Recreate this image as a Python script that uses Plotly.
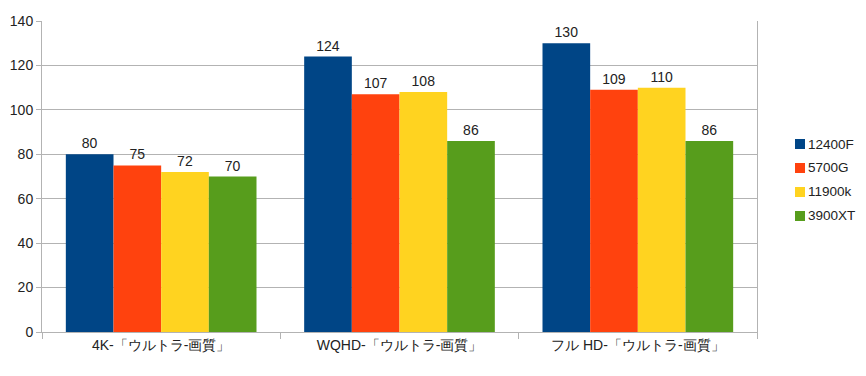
import plotly.graph_objects as go

categories = ["4K-「ウルトラ-画質」", "WQHD-「ウルトラ-画質」", "フル HD-「ウルトラ-画質」"]
series_names = ["12400F", "5700G", "11900k", "3900XT"]
v_12400F = [80, 124, 130]
v_5700G = [75, 107, 109]
v_11900k = [72, 108, 110]
v_3900XT = [70, 86, 86]
series_values = [v_12400F, v_5700G, v_11900k, v_3900XT]
colors = ["#004586", "#ff420e", "#ffd320", "#579d1c"]
y_ticks = [0, 20, 40, 60, 80, 100, 120, 140]

FONT = "Liberation Sans, Arial, sans-serif"

# figure is placed by the page with an 8px body margin; keep it inside the window
W, H = 850, 360
L, R, T, B = 34, 101, 13, 36
PW, PH = W - L - R, H - T - B

fig = go.Figure()
for name, vals, col in zip(series_names, series_values, colors):
    fig.add_trace(go.Bar(
        x=categories, y=vals, name=name, marker=dict(color=col, line=dict(width=0)),
        text=[str(v) for v in vals], textposition="outside", cliponaxis=False,
        textfont=dict(family=FONT, size=14, color="#222222"),
    ))

# legend drawn manually to keep the plot area width
for i, (name, col) in enumerate(zip(series_names, colors)):
    cy = 136 + i * 24  # figure px
    yc = 1 - (cy - T) / PH
    x0 = (787 - L) / PW
    x1 = (797 - L) / PW
    h = 5 / PH
    fig.add_shape(type="rect", xref="paper", yref="paper", x0=x0, x1=x1,
                  y0=yc - h, y1=yc + h, fillcolor=col, line=dict(width=0))
    fig.add_annotation(xref="paper", yref="paper", x=(798 - L) / PW, y=yc,
                       xanchor="left", yanchor="middle", text=name, showarrow=False,
                       font=dict(family=FONT, size=13.5, color="#222222"))

fig.update_layout(
    width=W, height=H,
    margin=dict(l=L, r=R, t=T, b=B, autoexpand=False),
    paper_bgcolor="white", plot_bgcolor="white",
    barmode="group", bargap=0.2, bargroupgap=0,
    font=dict(family=FONT, size=13, color="#222222"),
    showlegend=False,
)
fig.update_xaxes(
    type="category", showline=True, linecolor="#b3b3b3", linewidth=1,
    ticks="outside", tickson="boundaries", ticklen=6, tickcolor="#b3b3b3",
    showgrid=False, tickfont=dict(family=FONT, size=14, color="#222222"),
    automargin=False,
)
fig.update_yaxes(
    range=[0, 140], tickvals=y_ticks, showline=True, linecolor="#b3b3b3", linewidth=1,
    mirror=True, ticks="outside", ticklen=5, tickcolor="#b3b3b3",
    showgrid=True, gridcolor="#b3b3b3", gridwidth=1, zeroline=False,
    tickfont=dict(family=FONT, size=14, color="#222222"),
    automargin=False,
)

fig.write_html("out.html")
